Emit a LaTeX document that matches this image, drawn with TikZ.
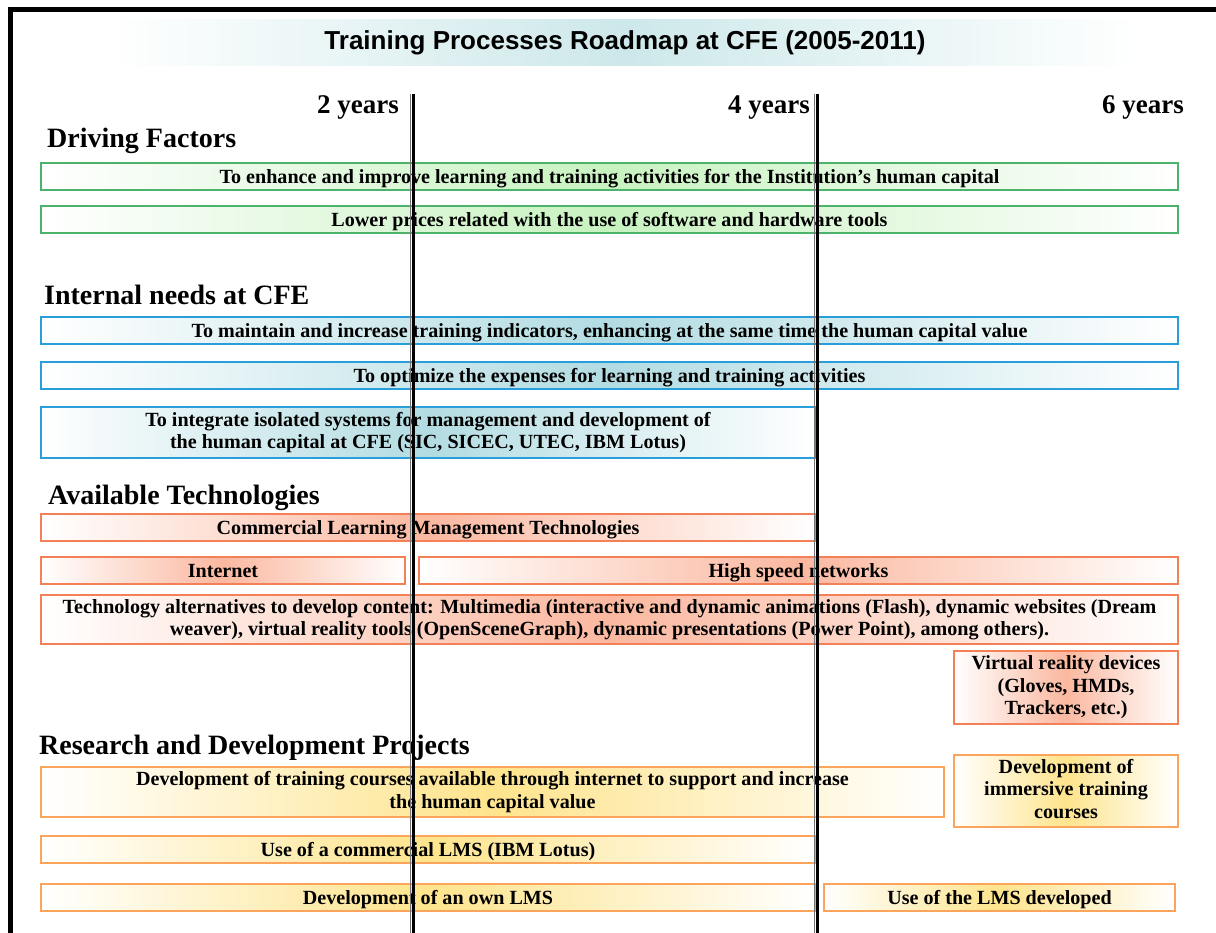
\documentclass[tikz,border=0pt]{standalone}
\usepackage{fontspec}
\setmainfont{Liberation Serif}
\newfontfamily\titlesans{Liberation Sans}
\definecolor{factorline}{RGB}{76,178,108}
\definecolor{factorfill}{RGB}{200,242,192}
\definecolor{needline}{RGB}{40,158,218}
\definecolor{needfill}{RGB}{178,220,226}
\definecolor{techline}{RGB}{244,128,88}
\definecolor{techfill}{RGB}{251,184,160}
\definecolor{projline}{RGB}{250,164,92}
\definecolor{projfill}{RGB}{254,228,140}
\definecolor{titlefill}{RGB}{205,232,234}
\newcommand{\roadtext}{\fontsize{20.1}{22.5}\selectfont\bfseries}
\newcommand{\roadhead}{\fontsize{28}{30}\selectfont\bfseries}
\newcommand{\roadyear}{\fontsize{27}{30}\selectfont\bfseries}
\newcommand{\roadtitle}{\titlesans\fontsize{26}{28}\selectfont\bfseries}
\tikzset{
road box/.style = { inner sep = 0pt, line width = 1.1pt, left color = white, right color = white, align = center, font = \roadtext, execute at begin node = {\rule[-0.22em]{0pt}{1.12em}} },
factor box/.style = { road box, draw = factorline, middle color = factorfill },
need box/.style = { road box, draw = needline, middle color = needfill },
tech box/.style = { road box, draw = techline, middle color = techfill },
project box/.style = { road box, draw = projline, middle color = projfill },
section head/.style = { inner sep = 0pt, anchor = base west, font = \roadhead },
year label/.style = { inner sep = 0pt, anchor = base east, font = \roadyear },
year line/.style = { line width = 2.6pt, black },
year shadow/.style = { line width = 0.9pt, black!55 },
}
\begin{document}
\begin{tikzpicture}[x = 1pt, y = -1pt]
    \useasboundingbox (0, 0) rectangle (1216, 933);
    \clip (0, 0) rectangle (1216, 933);
    % frame and title
    \draw[line width = 4.5pt] (10.5, 960) -- (10.5, 9.5) -- (1240, 9.5);
    \node[inner sep = 0pt, left color = white, right color = white, middle color = titlefill, minimum width = 1030pt, minimum height = 46pt] (title) at (625, 43) {\roadtitle Training Processes Roadmap at CFE (2005-2011)};
    % time scale
    \node[year label] (two) at (399, 114) {2 years};
    \node[year label] (four) at (810, 114) {4 years};
    \node[year label] (six) at (1184, 114) {6 years};
    % driving factors
    \node[section head] (driving) at (47, 148) {Driving Factors};
    \node[factor box, minimum width = 1137pt, minimum height = 27pt] (enhance) at (609.5, 176.5) {To enhance and improve learning and training activities for the Institution’s human capital};
    \node[factor box, minimum width = 1137pt, minimum height = 27pt] (prices) at (609.5, 219.5) {Lower prices related with the use of software and hardware tools};
    % internal needs
    \node[section head] (internal) at (44, 305) {Internal needs at CFE};
    \node[need box, minimum width = 1137pt, minimum height = 27pt] (indicators) at (609.5, 330.5) {To maintain and increase training indicators, enhancing at the same time the human capital value};
    \node[need box, minimum width = 1137pt, minimum height = 27pt] (expenses) at (609.5, 375.5) {To optimize the expenses for learning and training activities};
    \node[need box, minimum width = 774pt, minimum height = 51pt] (integrate) at (428, 432.5) {To integrate isolated systems for management and development of\\the human capital at CFE (SIC, SICEC, UTEC, IBM Lotus)};
    % available technologies
    \node[section head] (available) at (48, 504) {Available Technologies};
    \node[tech box, minimum width = 774pt, minimum height = 27pt] (commercial) at (428, 527.5) {Commercial Learning Management Technologies};
    \node[tech box, minimum width = 364pt, minimum height = 27pt] (internet) at (223, 570.5) {Internet};
    \node[tech box, minimum width = 759pt, minimum height = 27pt] (networks) at (798.5, 570.5) {High speed networks};
    \node[tech box, minimum width = 1137pt, minimum height = 49pt] (alternatives) at (609.5, 619.5) {Technology alternatives to develop content: Multimedia (interactive and dynamic animations (Flash), dynamic websites (Dream\\weaver), virtual reality tools (OpenSceneGraph), dynamic presentations (Power Point), among others).};
    \node[tech box, minimum width = 224pt, minimum height = 73pt] (devices) at (1066, 687.5) {Virtual reality devices\\(Gloves, HMDs,\\Trackers, etc.)};
    % research and development
    \node[section head] (research) at (39, 754) {Research and Development Projects};
    \node[project box, minimum width = 903pt, minimum height = 50pt] (courses) at (492.5, 792) {Development of training courses available through internet to support and increase\\the human capital value};
    \node[project box, minimum width = 224pt, minimum height = 72pt] (immersive) at (1066, 791) {Development of\\immersive training\\courses};
    \node[project box, minimum width = 774pt, minimum height = 27pt] (lotus) at (428, 849.5) {Use of a commercial LMS (IBM Lotus)};
    \node[project box, minimum width = 774pt, minimum height = 27pt] (ownlms) at (428, 897.5) {Development of an own LMS};
    \node[project box, minimum width = 351pt, minimum height = 27pt] (uselms) at (999.5, 897.5) {Use of the LMS developed};
    % year lines
    \coordinate (first top) at (413.5, 94);
    \coordinate (first bottom) at (413.5, 940);
    \coordinate (second top) at (817.5, 94);
    \coordinate (second bottom) at (817.5, 940);
    \draw[year shadow] ([xshift = -3pt] first top) -- ([xshift = -3pt] first bottom);
    \draw[year line] (first top) -- (first bottom);
    \draw[year shadow] ([xshift = -3pt] second top) -- ([xshift = -3pt] second bottom);
    \draw[year line] (second top) -- (second bottom);
\end{tikzpicture}
\end{document}
